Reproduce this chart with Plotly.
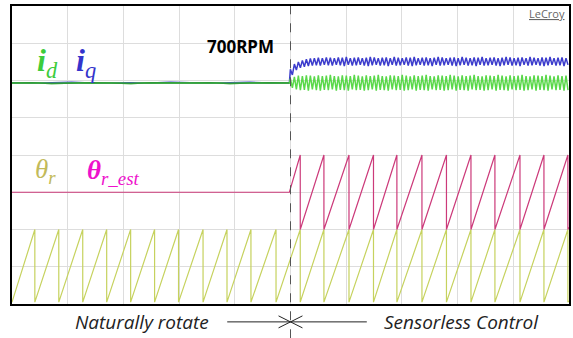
import plotly.graph_objects as go

# ---------------- data (oscilloscope divisions: x 0..10, y 0..8) ----------------
switch_t = 4.98  # moment of switching to sensorless control

# pre-switch d/q current traces (flat, slight noise)
pre_id = [5.93, 5.94, 5.92, 5.93, 5.94, 5.93, 5.92, 5.94, 5.93, 5.93, 5.94, 5.92, 5.93, 5.94, 5.93]
pre_iq = [5.94, 5.93, 5.94, 5.95, 5.93, 5.94, 5.94, 5.93, 5.95, 5.94, 5.93, 5.94, 5.95, 5.93, 5.94]

# post-switch ripple: local maxima / minima of each cycle
iq_hi = [6.30, 6.44, 6.50, 6.54, 6.57, 6.59, 6.60, 6.61, 6.60, 6.62, 6.61, 6.60, 6.62, 6.61,
         6.63, 6.60, 6.61, 6.62, 6.60, 6.61, 6.63, 6.62, 6.60, 6.61, 6.62, 6.60, 6.63, 6.61,
         6.60, 6.62, 6.61, 6.63, 6.60, 6.61, 6.62, 6.60, 6.61, 6.63, 6.62, 6.60, 6.61, 6.62,
         6.60, 6.63, 6.61, 6.60, 6.62, 6.61, 6.63, 6.60, 6.61, 6.62, 6.60, 6.61, 6.63, 6.62,
         6.60, 6.61, 6.62, 6.60, 6.63, 6.61, 6.60, 6.62, 6.61, 6.63, 6.60, 6.61, 6.62, 6.60]
iq_lo = [6.15, 6.28, 6.34, 6.37, 6.39, 6.40, 6.41, 6.40, 6.42, 6.41, 6.40, 6.42, 6.41, 6.39,
         6.42, 6.40, 6.41, 6.42, 6.40, 6.39, 6.41, 6.42, 6.40, 6.41, 6.39, 6.42, 6.40, 6.41,
         6.42, 6.40, 6.39, 6.41, 6.42, 6.40, 6.41, 6.39, 6.42, 6.40, 6.41, 6.42, 6.40, 6.39,
         6.41, 6.42, 6.40, 6.41, 6.39, 6.42, 6.40, 6.41, 6.42, 6.40, 6.39, 6.41, 6.42, 6.40,
         6.41, 6.39, 6.42, 6.40, 6.41, 6.42, 6.40, 6.39, 6.41, 6.42, 6.40, 6.41, 6.39, 6.42]
id_hi = [6.05, 6.10, 6.13, 6.12, 6.14, 6.13, 6.11, 6.14, 6.12, 6.13, 6.15, 6.12, 6.11, 6.14,
         6.13, 6.12, 6.15, 6.13, 6.11, 6.14, 6.12, 6.13, 6.15, 6.12, 6.11, 6.14, 6.13, 6.12,
         6.15, 6.13, 6.11, 6.14, 6.12, 6.13, 6.15, 6.12, 6.11, 6.14, 6.13, 6.12, 6.15, 6.13,
         6.11, 6.14, 6.12, 6.13, 6.15, 6.12, 6.11, 6.14, 6.13, 6.12, 6.15, 6.13, 6.11, 6.14,
         6.12, 6.13, 6.15, 6.12, 6.11, 6.14, 6.13, 6.12, 6.15, 6.13, 6.11, 6.14, 6.12, 6.13]
id_lo = [5.80, 5.76, 5.74, 5.75, 5.73, 5.76, 5.74, 5.73, 5.75, 5.74, 5.76, 5.73, 5.75, 5.74,
         5.73, 5.76, 5.74, 5.75, 5.73, 5.74, 5.76, 5.73, 5.75, 5.74, 5.73, 5.76, 5.74, 5.75,
         5.73, 5.74, 5.76, 5.73, 5.75, 5.74, 5.73, 5.76, 5.74, 5.75, 5.73, 5.74, 5.76, 5.73,
         5.75, 5.74, 5.73, 5.76, 5.74, 5.75, 5.73, 5.74, 5.76, 5.73, 5.75, 5.74, 5.73, 5.76,
         5.74, 5.75, 5.73, 5.74, 5.76, 5.73, 5.75, 5.74, 5.73, 5.76, 5.74, 5.75, 5.73, 5.74]

# rotor angle (encoder) sawtooth: times of the wrap-arounds
theta_r_peaks = [0.41, 0.84, 1.27, 1.70, 2.13, 2.56, 2.99, 3.43, 3.86, 4.29, 4.74, 5.175,
                 5.60, 6.05, 6.49, 6.91, 7.36, 7.80, 8.24, 8.67, 9.12, 9.55, 9.98]
theta_r_lo, theta_r_hi = 0.05, 2.0
theta_r_start, theta_r_end = 0.05, 0.08

# estimated angle sawtooth (after switch)
theta_est_flat = 3.0
theta_est_peaks = [5.175, 5.60, 6.05, 6.49, 6.91, 7.36, 7.80, 8.24, 8.67, 9.12, 9.55, 9.98]
theta_est_lo, theta_est_hi = 2.0, 4.0
theta_est_end = 2.06

# ---------------- build traces ----------------
def flat_then_ripple(pre, hi, lo):
    xs, ys = [], []
    n = len(pre)
    for i, v in enumerate(pre):
        xs.append(switch_t * i / (n - 1))
        ys.append(v)
    m = min(len(hi), len(lo))
    step = (10 - switch_t) / m
    for i in range(m):
        xs.append(switch_t + step * (i + 0.25))
        ys.append(hi[i])
        xs.append(switch_t + step * (i + 0.75))
        ys.append(lo[i])
    return xs, ys

def saw(peaks, lo, hi):
    xs, ys = [], []
    for p in peaks:
        xs += [p, p]
        ys += [hi, lo]
    return xs, ys

fig = go.Figure()

x_id, y_id = flat_then_ripple(pre_id, id_hi, id_lo)
x_iq, y_iq = flat_then_ripple(pre_iq, iq_hi, iq_lo)
fig.add_trace(go.Scatter(x=x_iq, y=y_iq, mode="lines", line=dict(color="#3c3ccc", width=1.5)))
fig.add_trace(go.Scatter(x=x_id, y=y_id, mode="lines", line=dict(color="#5ad84a", width=1.5)))
# darker green flat part overlay
fig.add_trace(go.Scatter(x=x_id[:len(pre_id)], y=y_id[:len(pre_id)], mode="lines",
                         line=dict(color="#2f9a3a", width=1.5)))

sx, sy = saw(theta_r_peaks, theta_r_lo, theta_r_hi)
fig.add_trace(go.Scatter(x=[0] + sx + [10], y=[theta_r_start] + sy + [theta_r_end],
                         mode="lines", line=dict(color="#c6d25e", width=1.2)))

ex, ey = saw(theta_est_peaks, theta_est_lo, theta_est_hi)
fig.add_trace(go.Scatter(x=[0, switch_t] + ex + [10],
                         y=[theta_est_flat, theta_est_flat] + ey + [theta_est_end],
                         mode="lines", line=dict(color="#cc3a7a", width=1.2)))

# ---------------- layout ----------------
fig.update_layout(
    width=573, height=338,
    margin=dict(l=12, r=2, t=6, b=34),
    paper_bgcolor="white", plot_bgcolor="white",
    showlegend=False,
)
fig.update_xaxes(range=[0, 10], dtick=1, showgrid=True, gridcolor="#dddddd", gridwidth=1,
                 showticklabels=False, ticks="", zeroline=False,
                 showline=True, mirror=True, linecolor="black", linewidth=2)
fig.update_yaxes(range=[0, 8], dtick=1, showgrid=True, gridcolor="#dddddd", gridwidth=1,
                 showticklabels=False, ticks="", zeroline=False,
                 showline=True, mirror=True, linecolor="black", linewidth=2)

# center dashed marker line, extends below plot
fig.add_shape(type="line", xref="x", yref="paper", x0=5, x1=5, y0=-0.115, y1=1,
              line=dict(color="#555555", width=1, dash="dash"))

serif = "Liberation Serif"
ann = [
    dict(x=0.63, y=6.47, text="<b><i>i</i></b><sub><i>d</i></sub>",
         font=dict(family=serif, size=32, color="#3ccc3c")),
    dict(x=1.33, y=6.47, text="<b><i>i</i></b><sub><i>q</i></sub>",
         font=dict(family=serif, size=32, color="#3434cc")),
    dict(x=4.11, y=6.92, text="<b>700RPM</b>",
         font=dict(family="Noto Sans", size=17, color="black")),
    dict(x=0.6, y=3.58, text="<i>θ</i><sub><i>r</i></sub>",
         font=dict(family=serif, size=27, color="#c2ba5a")),
    dict(x=1.82, y=3.55, text="<b><i>θ</i></b><sub><i>r_est</i></sub>",
         font=dict(family=serif, size=27, color="#ee11cc")),
    dict(x=9.61, y=7.8, text="<u>LeCroy</u>",
         font=dict(family="Open Sans", size=11, color="#666666")),
]
for a in ann:
    fig.add_annotation(xref="x", yref="y", xanchor="center", yanchor="middle",
                       showarrow=False, **a)

# bottom captions (outside the plotting area -> paper coordinates)
cap_y = -0.060
fig.add_annotation(xref="paper", yref="paper", x=0.2326, y=cap_y,
                   xanchor="center", yanchor="middle",
                   showarrow=False, text="<i>Naturally rotate</i>",
                   font=dict(family="Open Sans", size=19, color="#222222"))
fig.add_annotation(xref="paper", yref="paper", x=0.807, y=cap_y,
                   xanchor="center", yanchor="middle",
                   showarrow=False, text="<i>Sensorless Control</i>",
                   font=dict(family="Open Sans", size=19, color="#222222"))

# arrow lines toward the switch instant
line_style = dict(color="#222222", width=1)
fig.add_shape(type="line", xref="paper", yref="paper", x0=0.3864, x1=0.5, y0=cap_y, y1=cap_y,
              line=line_style)
fig.add_shape(type="line", xref="paper", yref="paper", x0=0.5, x1=0.637, y0=cap_y, y1=cap_y,
              line=line_style)
# arrowheads ">" and "<" meeting at the dashed line
hx, hy = 12 / 559, 6 / 298
fig.add_shape(type="path", xref="paper", yref="paper",
              path=f"M {0.5 - hx} {cap_y + hy} L 0.5 {cap_y} L {0.5 - hx} {cap_y - hy}",
              line=line_style)
fig.add_shape(type="path", xref="paper", yref="paper",
              path=f"M {0.5 + hx} {cap_y + hy} L 0.5 {cap_y} L {0.5 + hx} {cap_y - hy}",
              line=line_style)

fig.write_html("out.html")
